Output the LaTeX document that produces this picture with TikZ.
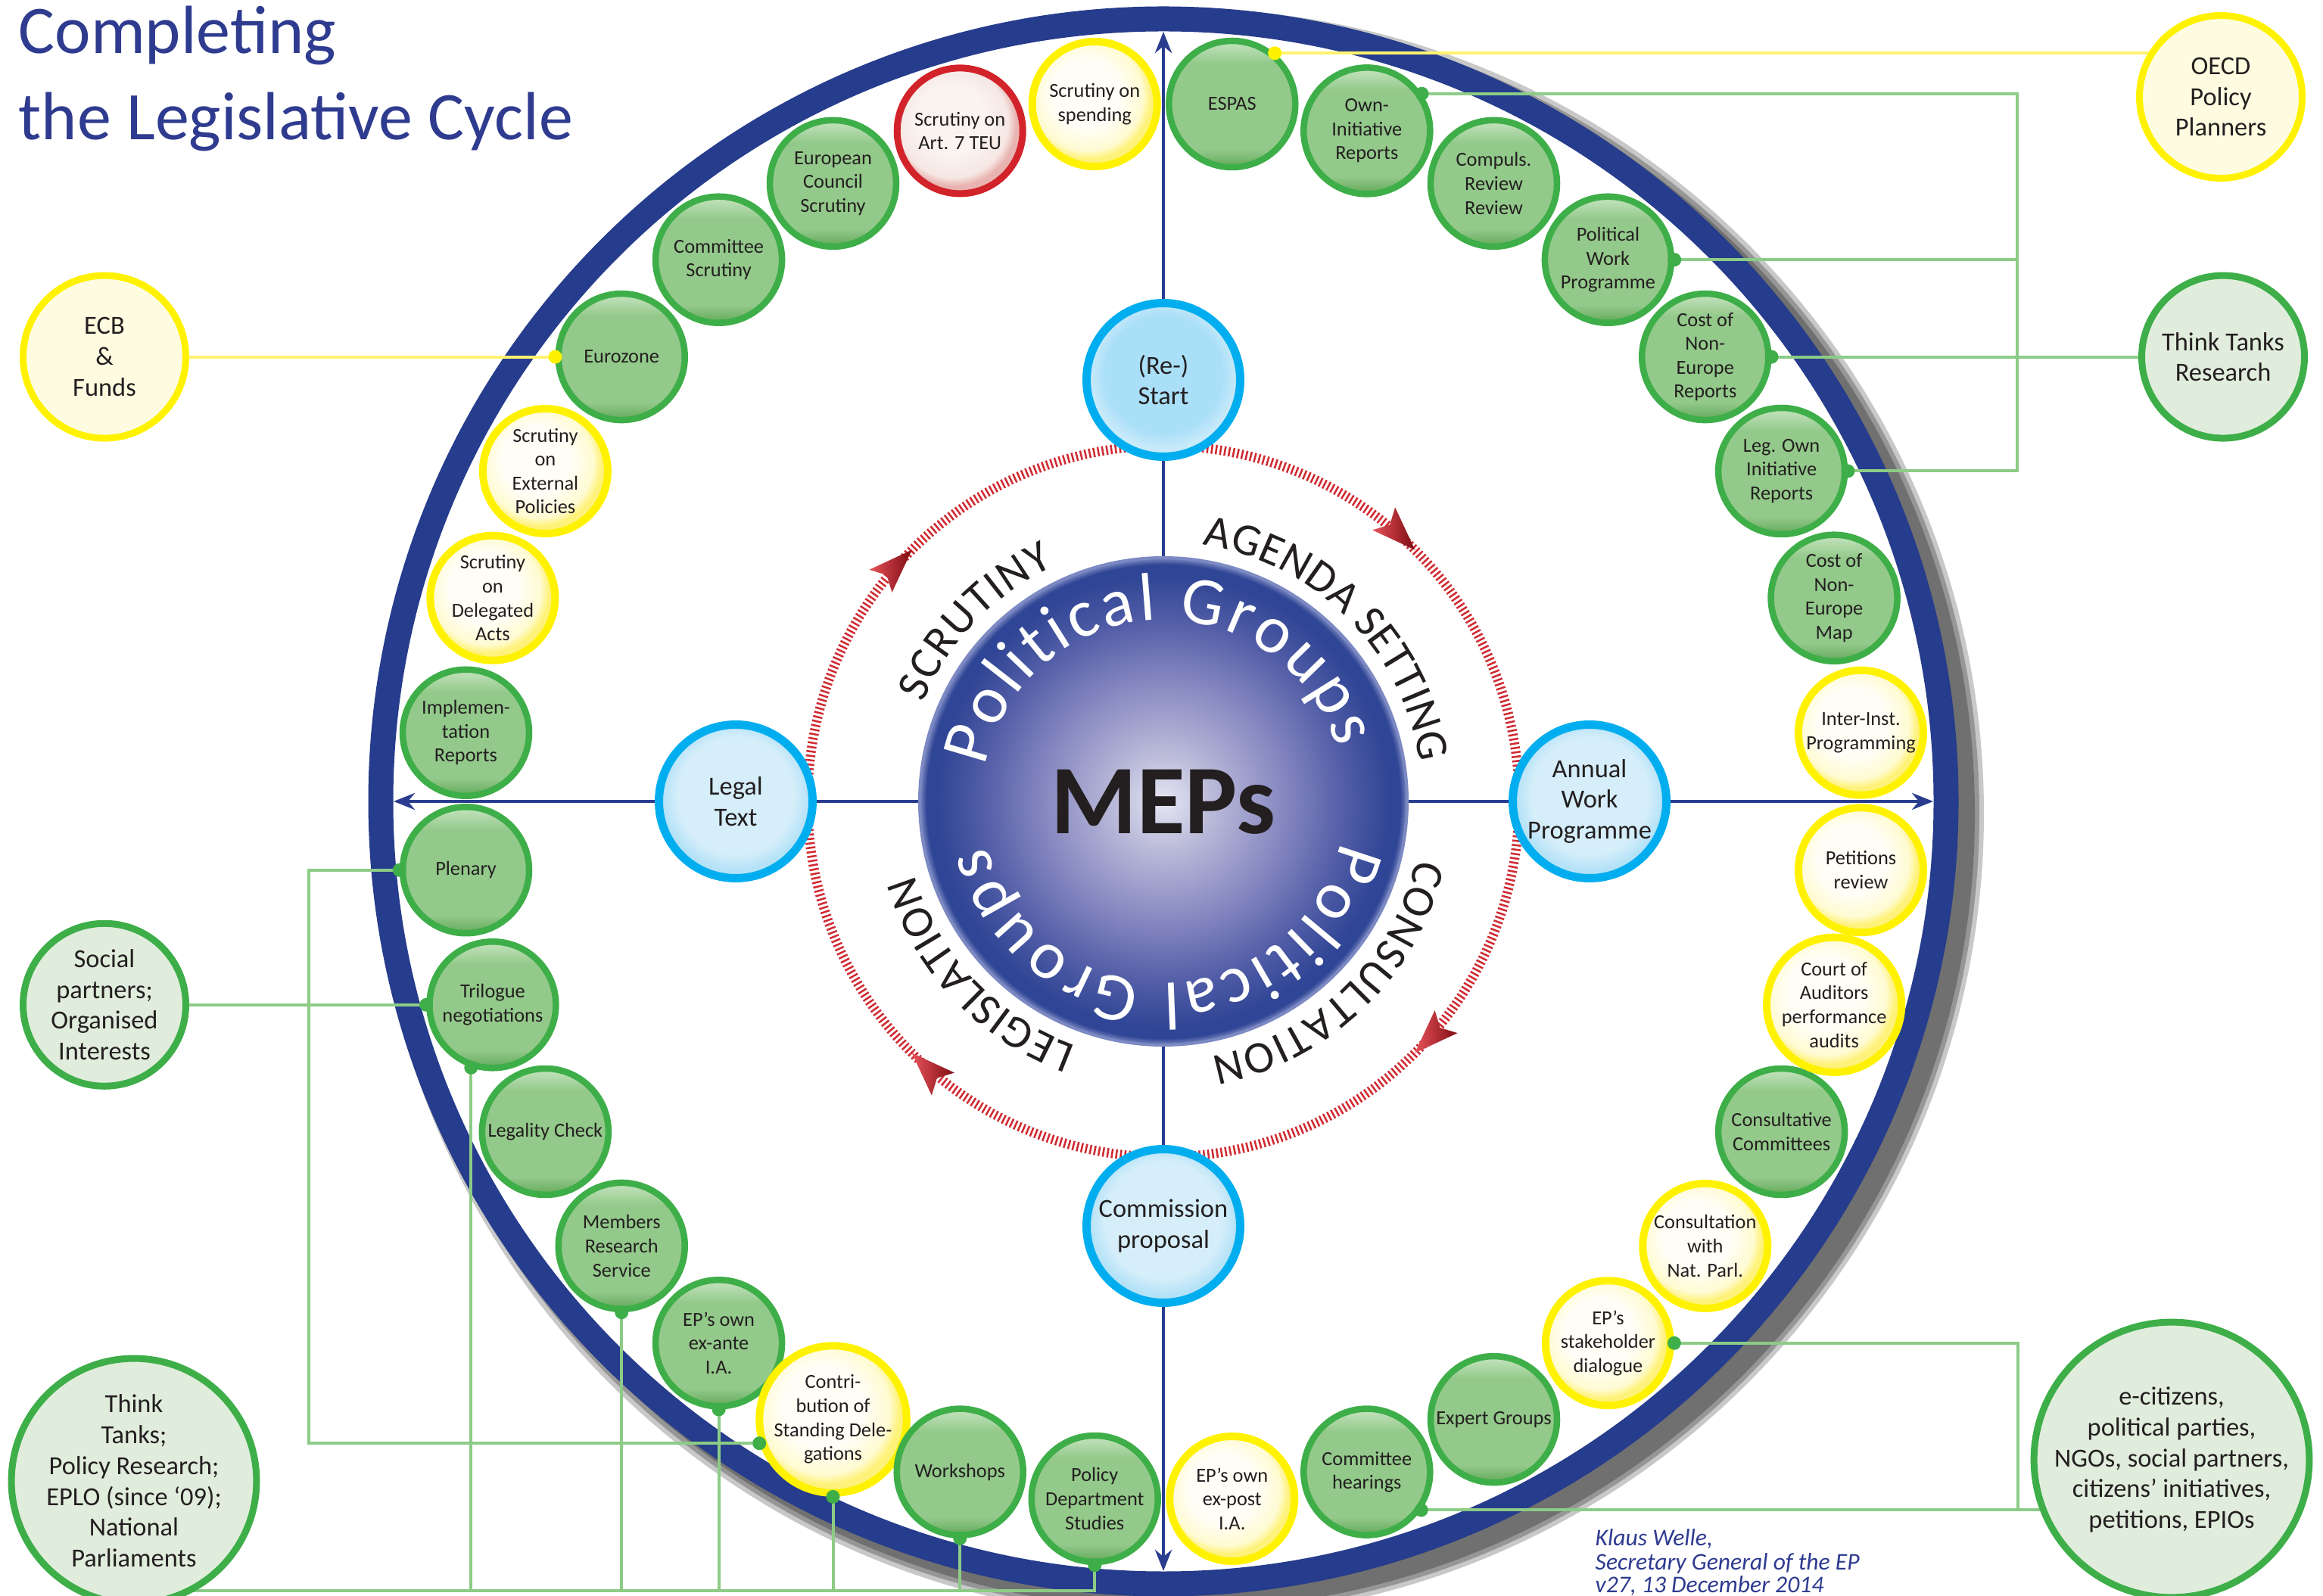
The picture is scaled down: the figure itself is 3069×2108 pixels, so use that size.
\documentclass[tikz,border=0pt]{standalone}
\usepackage{fontspec}
\setmainfont{Carlito}
\usetikzlibrary{arrows.meta,decorations.text,calc}

\definecolor{ringblue}{HTML}{263C8C}
\definecolor{axisblue}{HTML}{2A3D8F}
\definecolor{shadowgray}{HTML}{4A4A4A}
\definecolor{gstroke}{HTML}{3EAE49}
\definecolor{gfill}{HTML}{93C98A}
\definecolor{glight}{HTML}{C6E4C0}
\definecolor{gdark}{HTML}{62A85A}
\definecolor{ystroke}{HTML}{FFF200}
\definecolor{yA}{HTML}{FFFEF6}
\definecolor{yB}{HTML}{FFFBD2}
\definecolor{yC}{HTML}{FFF27A}
\definecolor{rstroke}{HTML}{D2232A}
\definecolor{rA}{HTML}{FAF3F0}
\definecolor{rB}{HTML}{F6E7E3}
\definecolor{rC}{HTML}{E8B3B0}
\definecolor{cstroke}{HTML}{00AEEF}
\definecolor{bA}{HTML}{D5EEFA}
\definecolor{bB}{HTML}{B4E2F7}
\definecolor{bSA}{HTML}{AADFF8}
\definecolor{bSB}{HTML}{C8EAFA}
\definecolor{ofillg}{HTML}{E1EDDC}
\definecolor{ofilly}{HTML}{FEFCE0}
\definecolor{txt}{HTML}{231F20}
\definecolor{conng}{HTML}{8CCC86}
\definecolor{conny}{HTML}{FFF36E}
\definecolor{tickred}{HTML}{D02A31}
\definecolor{arrL}{HTML}{E8525A}
\definecolor{arrD}{HTML}{7E0C12}
\definecolor{titleblue}{HTML}{2E3B8F}
\definecolor{mA}{HTML}{E6E6F4}
\definecolor{mB}{HTML}{BABAD9}
\definecolor{mC}{HTML}{8183BE}
\definecolor{mD}{HTML}{4F5BA5}
\definecolor{mE}{HTML}{2F4595}
\definecolor{mF}{HTML}{7C89C2}

\pgfdeclareverticalshading{gbub}{100bp}{color(0bp)=(gdark); color(25bp)=(gdark); color(32bp)=(gfill); color(66bp)=(gfill); color(75bp)=(glight); color(100bp)=(glight)}
\pgfdeclareradialshading{ybub}{\pgfpoint{-5bp}{6bp}}{color(0bp)=(yA); color(14bp)=(yA); color(22bp)=(yB); color(25bp)=(yC); color(50bp)=(yC)}
\pgfdeclareradialshading{rbub}{\pgfpoint{-5bp}{6bp}}{color(0bp)=(rA); color(14bp)=(rA); color(22bp)=(rB); color(25bp)=(rC); color(50bp)=(rC)}
\pgfdeclareradialshading{bnode}{\pgfpoint{0bp}{3bp}}{color(0bp)=(bA); color(19bp)=(bA); color(24bp)=(bB); color(25bp)=(bB); color(50bp)=(bB)}
\pgfdeclareradialshading{bnodeS}{\pgfpoint{0bp}{3bp}}{color(0bp)=(bSA); color(19bp)=(bSA); color(24bp)=(bSB); color(25bp)=(bSB); color(50bp)=(bSB)}
\pgfdeclareradialshading{mepsh}{\pgfpoint{0bp}{0bp}}{color(0bp)=(mA); color(5bp)=(mB); color(13bp)=(mC); color(19bp)=(mD); color(23.3bp)=(mE); color(24.3bp)=(mE); color(25bp)=(mF); color(50bp)=(mF)}

\pgfdeclarelayer{back}
\pgfdeclarelayer{mid}
\pgfsetlayers{back,mid,main}

\newcommand{\bubfont}{\fontsize{7.5}{9}\selectfont}
\newcommand{\bigfont}{\fontsize{9.8}{11.6}\selectfont}
\newcommand{\titlefont}{\fontsize{25.6}{33}\selectfont}
\newcommand{\sigfont}{\fontsize{9}{9}\selectfont\itshape}
\newcommand{\capsfont}{\fontsize{17}{17}\selectfont}
\newcommand{\pgrfont}{\fontsize{25.5}{26}\selectfont}
\newcommand{\mepsfont}{\fontsize{37}{37}\selectfont\bfseries}

\begin{document}
\begin{tikzpicture}[x=0.1mm,y=0.1mm,
  gb/.style={circle, draw=gstroke, line width=0.85mm, shading=gbub, minimum size=16.7mm, inner sep=0pt, align=center, font=\bubfont, text=txt},
  yb/.style={gb, draw=ystroke, line width=1.0mm, shading=ybub, minimum size=16.5mm},
  rb/.style={gb, draw=rstroke, line width=0.9mm, shading=rbub, minimum size=16.6mm},
  bn/.style={circle, draw=cstroke, line width=1.1mm, shading=bnode, minimum size=20.3mm, inner sep=0pt, align=center, font=\bigfont, text=txt},
  og/.style={circle, draw=gstroke, line width=0.9mm, fill=ofillg, minimum size=21.5mm, inner sep=0pt, align=center, font=\bigfont, text=txt},
  oy/.style={og, draw=ystroke, fill=ofilly},
  gconn/.style={draw=conng, line width=0.4mm},
  yconn/.style={draw=conny, line width=0.4mm},
  axisln/.style={draw=axisblue, line width=0.45mm},
  axarrow/.style={axisln, -{Stealth[length=2.8mm, width=2.2mm, inset=0.9mm]}},
  capstext/.style={decorate, decoration={text along path, text={|\capsfont|#1}, text color=txt, text align={fit to path}}},
  pgtext/.style={decorate, decoration={text along path, text={|\pgrfont|#1}, text color=white, text align={fit to path}}}
]
\useasboundingbox (0,0) rectangle (3069,2108);
\coordinate (C) at (1537,1049);
\coordinate (ringN) at ($(C)+(90:1017)$);
\coordinate (ringS) at ($(C)+(270:1017)$);
\coordinate (ringW) at ($(C)+(180:1017)$);
\coordinate (ringE) at ($(C)+(0:1017)$);

% ---------- ring, shadow, ticks ----------
\begin{pgfonlayer}{back}
  \foreach \w/\o in {6.0/0.3, 4.8/0.4, 3.6/0.5}
    \draw[shadowgray, line width=\w mm, opacity=\o] ($(C)+(20,-16)$) circle[radius=1034];
  \fill[white] (C) circle[radius=1030];
  \draw[ringblue, line width=3.3mm] (C) circle[radius=1034];
  \draw[tickred, line width=1.25mm, dash pattern=on 0.25mm off 0.33mm] (C) circle[radius=470];
  \foreach \a in {45,-45,-135,135}
    \shade[left color=arrL, right color=arrD]
      ($(C)+(\a:470)$) -- ($(C)+(\a:470)+(\a+90+20:62)$)
      -- ($(C)+(\a:470)+(\a+90:47)$) -- ($(C)+(\a:470)+(\a+90-20:62)$) -- cycle;
\end{pgfonlayer}

% ---------- title and signature ----------
\node[anchor=base west, font=\titlefont, text=titleblue, inner sep=0pt] (title1) at (24,2037) {Completing};
\node[anchor=base west, font=\titlefont, text=titleblue, inner sep=0pt] (title2) at (24,1923) {the Legislative Cycle};
\node[anchor=base west, font=\sigfont, text=titleblue, inner sep=0pt] (sig1) at (2107,66) {Klaus Welle,};
\node[anchor=base west, font=\sigfont, text=titleblue, inner sep=0pt] (sig2) at (2107,34) {Secretary General of the EP};
\node[anchor=base west, font=\sigfont, text=titleblue, inner sep=0pt] (sig3) at (2107,4) {v27, 13 December 2014};

% ---------- centre ----------
\node[circle, minimum size=64.4mm, inner sep=0pt, shading=mepsh, draw=mF, line width=0.4mm, font=\mepsfont, text=txt, text depth=0pt] (meps) at (C) {MEPs};
\path[pgtext={Political Groups}] ($(C)+(169:240)$) arc[start angle=169, end angle=17, radius=240];
\path[pgtext={Political Groups}] ($(C)+(-12.8:240)$) arc[start angle=-12.8, end angle=-165.7, radius=240];
\path[capstext={SCRUTINY}] ($(C)+(157.6:343)$) arc[start angle=157.6, end angle=115, radius=343];
\path[capstext={AGENDA SETTING}] ($(C)+(81.3:343)$) arc[start angle=81.3, end angle=8.7, radius=343];
\path[capstext={CONSULTATION}] ($(C)+(-12.8:343)$) arc[start angle=-12.8, end angle=-79.4, radius=343];
\path[capstext={LEGISLATION}] ($(C)+(-109.7:343)$) arc[start angle=-109.7, end angle=-163.6, radius=343];

% ---------- phase nodes ----------
\node[bn, shading=bnodeS] (start) at ($(C)+(90:557)$) {(Re-)\\Start};
\node[bn] (legal) at ($(C)+(180:565)$) {Legal\\Text};
\node[bn] (annual) at ($(C)+(0:563)$) {Annual\\Work\\Programme};
\node[bn] (comm) at ($(C)+(270:561)$) {Commission\\proposal};

% ---------- bubbles on the ring ----------
\node[yb] (inter)   at ($(C)+(5.625:926)$)   {Inter-Inst.\\Programming};
\node[gb] (costm)   at ($(C)+(16.875:926)$)  {Cost of\\Non-\\Europe\\Map};
\node[gb] (legown)  at ($(C)+(28.125:926)$)  {Leg. Own\\Initiative\\Reports};
\node[gb] (costr)   at ($(C)+(39.375:926)$)  {Cost of\\Non-\\Europe\\Reports};
\node[gb] (pwp)     at ($(C)+(50.625:926)$)  {Political\\Work\\Programme};
\node[gb] (compuls) at ($(C)+(61.875:926)$)  {Compuls.\\Review\\Review};
\node[gb] (owni)    at ($(C)+(73.125:926)$)  {Own-\\Initiative\\Reports};
\node[gb] (espas)   at ($(C)+(84.375:926)$)  {ESPAS};
\node[yb] (spend)   at ($(C)+(95.625:926)$)  {Scrutiny on\\spending};
\node[rb] (art7)    at ($(C)+(106.875:926)$) {Scrutiny on\\Art. 7 TEU};
\node[gb] (eucs)    at ($(C)+(118.125:926)$) {European\\Council\\Scrutiny};
\node[gb] (comscr)  at ($(C)+(129.375:926)$) {Committee\\Scrutiny};
\node[gb] (euro)    at ($(C)+(140.625:926)$) {Eurozone};
\node[yb] (extpol)  at ($(C)+(151.875:926)$) {Scrutiny\\on\\External\\Policies};
\node[yb] (delact)  at ($(C)+(163.125:926)$) {Scrutiny\\on\\Delegated\\Acts};
\node[gb] (implem)  at ($(C)+(174.375:926)$) {Implemen-\\tation\\Reports};
\node[gb] (plen)    at ($(C)+(185.625:926)$) {Plenary};
\node[gb] (tril)    at ($(C)+(196.875:926)$) {Trilogue\\negotiations};
\node[gb] (legchk)  at ($(C)+(208.125:926)$) {Legality Check};
\node[gb] (mrs)     at ($(C)+(219.375:926)$) {Members\\Research\\Service};
\node[gb] (exante)  at ($(C)+(230.625:926)$) {EP’s own\\ex-ante\\I.A.};
\node[yb] (contrib) at ($(C)+(241.875:926)$) {Contri-\\bution of\\Standing Dele-\\gations};
\node[gb] (work)    at ($(C)+(253.125:926)$) {Workshops};
\node[gb] (pds)     at ($(C)+(264.375:926)$) {Policy\\Department\\Studies};
\node[yb] (expost)  at ($(C)+(275.625:926)$) {EP’s own\\ex-post\\I.A.};
\node[gb] (chear)   at ($(C)+(286.875:926)$) {Committee\\hearings};
\node[gb] (expert)  at ($(C)+(298.125:926)$) {Expert Groups};
\node[yb] (stake)   at ($(C)+(309.375:926)$) {EP’s\\stakeholder\\dialogue};
\node[yb] (natparl) at ($(C)+(320.625:926)$) {Consultation\\with\\Nat. Parl.};
\node[gb] (consc)   at ($(C)+(331.875:926)$) {Consultative\\Committees};
\node[yb] (court)   at ($(C)+(343.125:926)$) {Court of\\Auditors\\performance\\audits};
\node[yb] (petit)   at ($(C)+(354.375:926)$) {Petitions\\review};

% ---------- outside actors ----------
\coordinate (ecbx) at (138,0);
\coordinate (ttrx) at (2937,0);
\coordinate (spx) at (138,0);
\node[oy] (ecb) at (ecbx |- euro) {ECB\\\&\\Funds};
\node[oy] (oecd) at (2934,1980) {OECD\\Policy\\Planners};
\node[og] (ttr) at (ttrx |- costr) {Think Tanks\\Research};
\node[og] (sp) at (spx |- tril) {Social\\partners;\\Organised\\Interests};
\node[og, minimum size=28.7mm] (ttl) at (177,151) {Think\\Tanks;\\Policy Research;\\EPLO (since ‘09);\\National\\Parliaments};
\node[og, minimum size=34.3mm] (ecit) at (2869,179) {e-citizens,\\political parties,\\NGOs, social partners,\\citizens’ initiatives,\\petitions, EPIOs};

% ---------- connectors ----------
\coordinate (brR) at (2665,0);
\coordinate (brL) at (408,0);
\coordinate (brB) at (2666,0);
\coordinate (botY) at (0,6);
\begin{pgfonlayer}{mid}
  \draw[axisln] (meps) -- (start);
  \draw[axarrow] (start) -- (ringN);
  \draw[axisln] (meps) -- (comm);
  \draw[axarrow] (comm) -- (ringS);
  \draw[axisln] (meps) -- (legal);
  \draw[axarrow] (legal) -- (ringW);
  \draw[axisln] (meps) -- (annual);
  \draw[axarrow] (annual) -- (ringE);

  \draw[yconn] (euro.west) -- (ecb);
  \draw[yconn] (espas.50) -- (espas.50 -| oecd.center);

  \draw[gconn] (owni.34) -- (owni.34 -| brR) -- (legown.east -| brR) -- (legown.east);
  \draw[gconn] (pwp.east) -- (pwp.east -| brR);
  \draw[gconn] (costr.east) -- (ttr);

  \draw[gconn] (sp) -- (tril.west);
  \draw[gconn] (plen.west) -- (plen.west -| brL) -- (brL |- contrib.198) -- (contrib.198);
  \draw[gconn] (ttl.center |- botY) -- (pds.south |- botY) -- (pds.south);
  \draw[gconn] (tril.251) -- (tril.251 |- botY);
  \draw[gconn] (mrs.south) -- (mrs.south |- botY);
  \draw[gconn] (exante.south) -- (exante.south |- botY);
  \draw[gconn] (contrib.south) -- (contrib.south |- botY);
  \draw[gconn] (work.south) -- (work.south |- botY);

  \draw[gconn] (stake.east) -- (stake.east -| brB) -- (brB |- chear.325);
  \draw[gconn] (chear.325) -- (chear.325 -| ecit.center);
\end{pgfonlayer}

% ---------- connector dots ----------
\fill[ystroke] (euro.west) circle[radius=9];
\fill[ystroke] (espas.50) circle[radius=9];
\foreach \p in {owni.34, pwp.east, costr.east, legown.east, plen.west, tril.west, tril.251, mrs.south, exante.south, contrib.198, contrib.south, work.south, pds.south, stake.east, chear.325}
  \fill[gstroke] (\p) circle[radius=9];
\end{tikzpicture}
\end{document}
